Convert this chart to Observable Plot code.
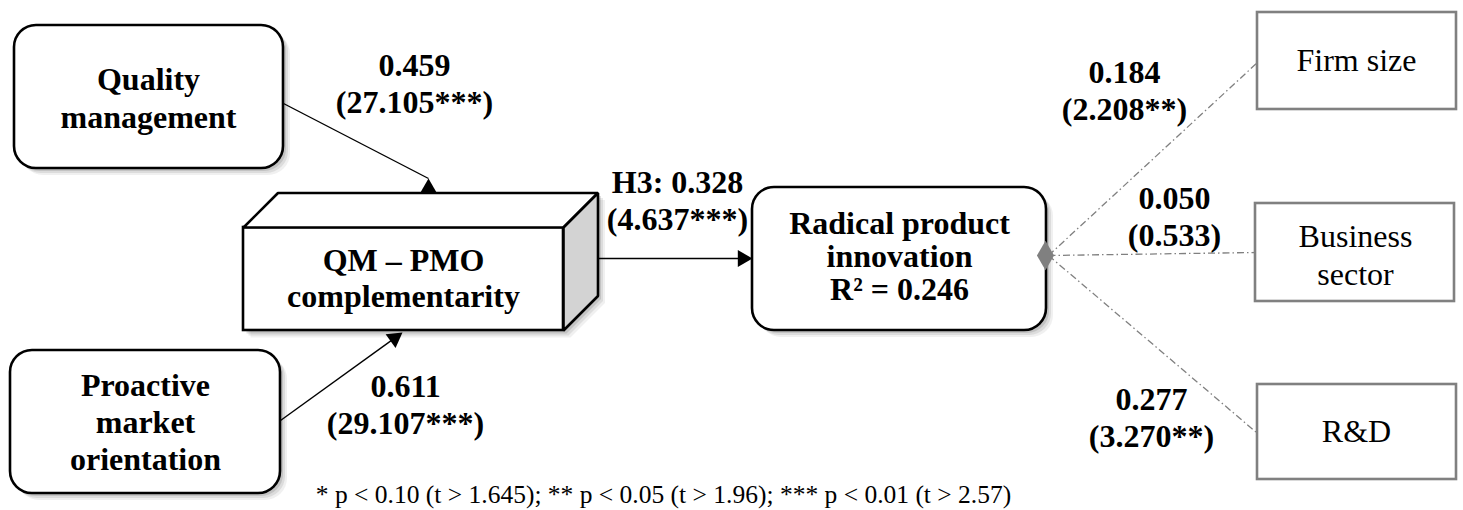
<!DOCTYPE html>
<html><head><meta charset="utf-8">
<script src="https://cdn.jsdelivr.net/npm/d3@7"></script>
<script src="https://cdn.jsdelivr.net/npm/@observablehq/plot@0.6"></script>
<style>body{margin:0;background:#fff}</style>
</head><body><div id="chart"></div>
<script>
// ---------------- data ----------------
const constructs = ["Quality\nmanagement", "Proactive\nmarket\norientation", "QM – PMO\ncomplementarity", "Radical product\ninnovation\nR² = 0.246"];
const controls = ["Firm size", "Business\nsector", "R&D"];
const pathNames = ["QM → QM–PMO", "PMO → QM–PMO", "QM–PMO → RPI", "Firm size → RPI", "Business sector → RPI", "R&D → RPI"];
const pathPrefix = ["", "", "H3: ", "", "", ""];
const coefficients = [0.459, 0.611, 0.328, 0.184, 0.050, 0.277];
const tValues = [27.105, 29.107, 4.637, 2.208, 0.533, 3.270];
const stars = ["***", "***", "***", "**", "", "**"];
const footnote = "* p < 0.10 (t > 1.645); ** p < 0.05 (t > 1.96); *** p < 0.01 (t > 2.57)";

// ---------------- layout (diagram geometry, pixels) ----------------
const W = 1463, H = 510;
const FONT = "'Liberation Serif', 'Times New Roman', serif";
const roundBoxes = [
  {x1: 14, x2: 283, y1: 25, y2: 168},   // Quality management
  {x1: 10, x2: 280, y1: 350, y2: 493},  // Proactive market orientation
  {x1: 752, x2: 1046, y1: 187, y2: 330} // Radical product innovation
];
const cube = {x1: 243, x2: 563, y1: 227, y2: 330, d: 34.5};
const controlBoxes = [
  {x1: 1257, x2: 1456, y1: 12, y2: 109},
  {x1: 1255, x2: 1454, y1: 203, y2: 301},
  {x1: 1257, x2: 1456, y1: 384, y2: 479}
];
const constructTextPos = [[148, 96, 1.19], [145, 421, 1.16], [403, 277, 1.13], [899, 256, 1.04]];
const controlTextPos = [[1356, 58], [1355, 253], [1356, 429]];
const labelPos = [[414, 82], [405, 403], [677, 199], [1124, 89], [1174, 215], [1151, 416]];
const arrows = [
  {x1: 283, y1: 103, x2: 428, y2: 178, head: "up"},
  {x1: 280, y1: 420, x2: 402, y2: 332, head: "along"},
  {x1: 597, y1: 258, x2: 752, y2: 258, head: "along"}
];
const hub = {x: 1045, y: 255};
const controlEnds = [[1257, 62], [1255, 252], [1256, 432]];
const footPos = [663, 494];

// ---------------- derived mark data ----------------
const cubeTop = [[cube.x1, cube.y1], [cube.x1 + cube.d, cube.y1 - cube.d], [cube.x2 + cube.d, cube.y1 - cube.d], [cube.x2, cube.y1], [cube.x1, cube.y1]];
const cubeSide = [[cube.x2, cube.y1], [cube.x2 + cube.d, cube.y1 - cube.d], [cube.x2 + cube.d, cube.y2 - cube.d], [cube.x2, cube.y2], [cube.x2, cube.y1]];
const cubeOutline = [[cube.x1, cube.y1], [cube.x1 + cube.d, cube.y1 - cube.d], [cube.x2 + cube.d, cube.y1 - cube.d], [cube.x2 + cube.d, cube.y2 - cube.d], [cube.x2, cube.y2], [cube.x1, cube.y2], [cube.x1, cube.y1]];

const headR = 6.3;
const headH = 3 * Math.sqrt(headR * headR * Math.PI / (Math.sqrt(3) * 3)); // triangle height
const heads = arrows.map(a => {
  if (a.head === "up") {
    return {x: a.x2, y: a.y2 + headH * 2 / 3, angle: 0};
  }
  const dx = a.x2 - a.x1, dy = a.y2 - a.y1, L = Math.hypot(dx, dy);
  const ux = dx / L, uy = dy / L;
  return {x: a.x2 - ux * headH * 2 / 3, y: a.y2 - uy * headH * 2 / 3, angle: Math.atan2(dx, -dy) * 180 / Math.PI};
});
const arrowLines = arrows.map(a => {
  if (a.head === "up") return a;
  const dx = a.x2 - a.x1, dy = a.y2 - a.y1, L = Math.hypot(dx, dy);
  return {x1: a.x1, y1: a.y1, x2: a.x2 - dx / L * (headH - 2), y2: a.y2 - dy / L * (headH - 2)};
});

const labels = coefficients.map((c, i) => ({
  name: pathNames[i],
  text: pathPrefix[i] + d3.format(".3f")(c) + "\n(" + d3.format(".3f")(tValues[i]) + stars[i] + ")",
  x: labelPos[i][0], y: labelPos[i][1]
}));
const controlLinks = controlEnds.map(([x, y], i) => ({x1: hub.x + 3, y1: hub.y, x2: x, y2: y, name: controls[i]}));

const shadowLayers = [
  {o: 7, a: 0.09}, {o: 5, a: 0.13}, {o: 3, a: 0.18}
];
const shadowRects = [];
const cubeShadow = [];
shadowLayers.forEach((s, k) => {
  for (const b of roundBoxes) shadowRects.push({x1: b.x1 + s.o, x2: b.x2 + s.o, y1: b.y1 + s.o, y2: b.y2 + s.o, a: s.a});
  cubeOutline.forEach(([x, y]) => cubeShadow.push({x: x + s.o, y: y + s.o, layer: k, a: s.a}));
});

const chart = Plot.plot({
  width: W, height: H, margin: 0,
  x: {domain: [0, W], range: [0, W], axis: null},
  y: {domain: [0, H], range: [0, H], axis: null},
  style: {background: "white"},
  marks: [
    // shadows
    Plot.rect(shadowRects, {x1: "x1", x2: "x2", y1: "y1", y2: "y2", rx: 22, fill: "#555", fillOpacity: d => d.a}),
    ...shadowLayers.map((s, k) => Plot.line(cubeShadow.filter(d => d.layer === k), {x: "x", y: "y", fill: "#555", fillOpacity: s.a, stroke: "none"})),
    // control links (dash-dot)
    Plot.link(controlLinks, {x1: "x1", y1: "y1", x2: "x2", y2: "y2", stroke: "#808080", strokeWidth: 1.3, strokeDasharray: "7 3 1.5 3"}),
    // arrows
    Plot.link(arrowLines, {x1: "x1", y1: "y1", x2: "x2", y2: "y2", stroke: "black", strokeWidth: 1.4}),
    // rounded construct boxes
    Plot.rect(roundBoxes, {x1: "x1", x2: "x2", y1: "y1", y2: "y2", rx: 22, fill: "white", stroke: "black", strokeWidth: 2.6}),
    // cube
    Plot.rect([cube], {x1: "x1", x2: "x2", y1: "y1", y2: "y2", fill: "white", stroke: "black", strokeWidth: 2.6}),
    Plot.line(cubeTop, {x: d => d[0], y: d => d[1], fill: "white", stroke: "black", strokeWidth: 2.6, strokeLinejoin: "miter"}),
    Plot.line(cubeSide, {x: d => d[0], y: d => d[1], fill: "#d3d3d3", stroke: "black", strokeWidth: 2.6, strokeLinejoin: "miter"}),
    // control boxes
    Plot.rect(controlBoxes, {x1: "x1", x2: "x2", y1: "y1", y2: "y2", fill: "white", stroke: "#808080", strokeWidth: 2.6}),
    // arrowheads
    Plot.dot(heads, {x: "x", y: "y", r: headR, symbol: "triangle", rotate: "angle", fill: "black", stroke: "none"}),
    // hub diamond
    Plot.dot([hub], {x: "x", y: "y", r: 9, symbol: "diamond", fill: "#808080", stroke: "none"}),
    // construct labels
    ...constructs.map((t, i) => Plot.text([t], {
      x: () => constructTextPos[i][0], y: () => constructTextPos[i][1], text: d => d,
      fontFamily: FONT, fontWeight: "bold", fontSize: 32, lineHeight: constructTextPos[i][2], fill: "black"
    })),
    // control labels
    Plot.text(controls, {
      x: (d, i) => controlTextPos[i][0], y: (d, i) => controlTextPos[i][1], text: d => d,
      fontFamily: FONT, fontSize: 32, lineHeight: 1.19, fill: "black"
    }),
    // path coefficient labels
    Plot.text(labels, {x: "x", y: "y", text: "text", fontFamily: FONT, fontWeight: "bold", fontSize: 32, lineHeight: 1.15, fill: "black"}),
    // footnote
    Plot.text([footnote], {x: () => footPos[0], y: () => footPos[1], text: d => d, fontFamily: FONT, fontSize: 25.5, fill: "black"})
  ]
});
document.getElementById("chart").append(chart);
</script>
</body></html>
